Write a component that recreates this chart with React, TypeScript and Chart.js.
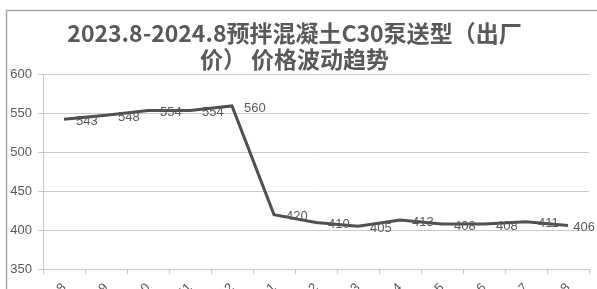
import { useEffect, useRef } from "react";
import { Chart, registerables } from "chart.js";

Chart.register(...registerables);

const categories = [
  "2023.8", "2023.9", "2023.10", "2023.11", "2023.12",
  "2024.1", "2024.2", "2024.3", "2024.4", "2024.5",
  "2024.6", "2024.7", "2024.8",
];
const prices = [543, 548, 554, 554, 560, 420, 410, 405, 413, 408, 408, 411, 406];
const yMin = 350;
const yMax = 600;
const yStep = 50;
const titleLines = ["2023.8-2024.8预拌混凝土C30泵送型（出厂", "价） 价格波动趋势"];

const textColor = "#595959";
const gridColor = "#c9c9c9";
const numFont = "'Liberation Sans', Arial, sans-serif";

const framePlugin = {
  id: "frame",
  beforeDraw(chart: any) {
    const ctx = chart.ctx;
    ctx.save();
    ctx.strokeStyle = "#a6a6a6";
    ctx.lineWidth = 1.5;
    ctx.beginPath();
    ctx.moveTo(6.5, chart.height + 5);
    ctx.lineTo(6.5, 10.5);
    ctx.lineTo(chart.width + 5, 10.5);
    ctx.stroke();
    ctx.restore();
  },
};

const valueLabelPlugin = {
  id: "valueLabels",
  afterDatasetsDraw(chart: any) {
    const ctx = chart.ctx;
    const meta = chart.getDatasetMeta(0);
    const data = chart.data.datasets[0].data as number[];
    ctx.save();
    ctx.font = `13px ${numFont}`;
    ctx.fillStyle = textColor;
    ctx.textAlign = "left";
    ctx.textBaseline = "middle";
    meta.data.forEach((pt: any, i: number) => {
      const txt = String(data[i]);
      const w = ctx.measureText(txt).width;
      const x = Math.min(pt.x + 12, chart.width - w - 2);
      ctx.fillText(txt, x, pt.y + 2);
    });
    ctx.restore();
  },
};

export default function App() {
  const ref = useRef<HTMLCanvasElement | null>(null);

  useEffect(() => {
    if (!ref.current) return;
    const chart = new Chart(ref.current, {
      type: "line",
      data: {
        labels: categories,
        datasets: [
          {
            data: prices,
            borderColor: "#505050",
            borderWidth: 3,
            pointRadius: 0,
            tension: 0,
            fill: false,
          },
        ],
      },
      options: {
        responsive: false,
        animation: false,
        devicePixelRatio: 1,
        layout: { padding: { left: 0, right: 8, top: 0, bottom: 0 } },
        plugins: {
          legend: { display: false },
          tooltip: { enabled: false },
          title: {
            display: true,
            text: titleLines,
            color: textColor,
            font: {
              family: "'Noto Sans CJK SC', sans-serif",
              size: 23,
              weight: "bold",
              lineHeight: 1.15,
            },
            padding: { top: 20, bottom: 2 },
          },
        },
        scales: {
          x: {
            type: "category",
            offset: true,
            grid: {
              display: true,
              offset: true,
              drawOnChartArea: false,
              drawTicks: true,
              tickLength: 5,
              color: gridColor,
            },
            border: { color: gridColor },
            ticks: {
              autoSkip: false,
              minRotation: 45,
              maxRotation: 45,
              padding: 6,
              color: textColor,
              font: { family: numFont, size: 13 },
            },
            afterFit(scale: any) {
              scale.height = 20;
            },
          },
          y: {
            min: yMin,
            max: yMax,
            ticks: {
              stepSize: yStep,
              padding: 6,
              color: textColor,
              font: { family: numFont, size: 13 },
            },
            grid: {
              color: gridColor,
              tickLength: 5,
              drawTicks: true,
            },
            border: { color: gridColor },
            afterFit(scale: any) {
              scale.width = 43;
            },
          },
        },
      },
      plugins: [framePlugin, valueLabelPlugin],
    } as any);
    return () => chart.destroy();
  }, []);

  return (
    <div style={{ position: "fixed", left: 0, top: 0, width: 597, height: 289, background: "#ffffff" }}>
      <canvas ref={ref} width={597} height={289} style={{ display: "block" }} />
    </div>
  );
}
